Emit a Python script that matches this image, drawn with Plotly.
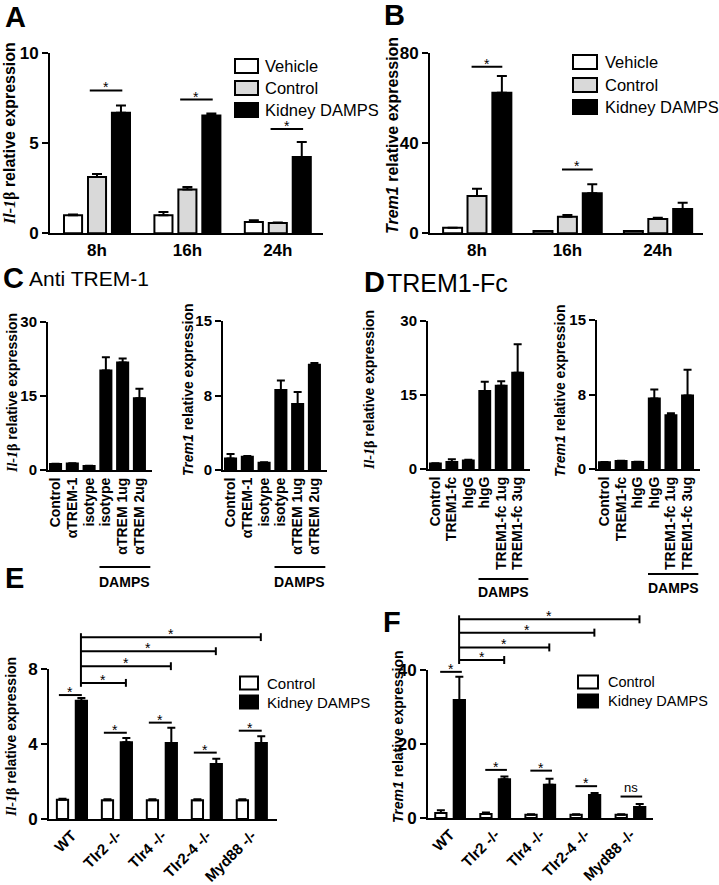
import plotly.graph_objects as go

W, H = 719, 885
def px(x): return x / W
def py(y): return 1 - y / H

SANS = "Liberation Sans"
SERIF = "Liberation Serif"
GRAY = "#d9d9d9"

# ---------------- data ----------------
time_labels = ["8h", "16h", "24h"]
A_vehicle = [1.0, 1.0, 0.63]
A_vehicle_err = [0.05, 0.18, 0.09]
A_control = [3.13, 2.44, 0.57]
A_control_err = [0.17, 0.13, 0.03]
A_damps = [6.7, 6.54, 4.24]
A_damps_err = [0.4, 0.11, 0.83]
A_sig_groups = [0, 1, 2]
A_sig_y = [7.94, 7.43, 5.8]

B_vehicle = [2.5, 1.0, 1.0]
B_vehicle_err = [0.0, 0.0, 0.0]
B_control = [16.6, 7.4, 6.4]
B_control_err = [3.2, 0.7, 0.5]
B_damps = [62.5, 17.8, 10.8]
B_damps_err = [7.4, 4.0, 2.8]
B_sig_groups = [0, 1]
B_sig_y = [74.0, 28.4]

C_labels = ["Control", "αTREM-1", "isotype", "isotype", "αTREM 1ug", "αTREM 2ug"]
C_il1b = [1.2, 1.3, 0.8, 20.1, 21.7, 14.5]
C_il1b_err = [0.05, 0.05, 0.05, 2.7, 0.8, 1.9]
C_trem1 = [1.17, 1.34, 0.74, 8.05, 6.64, 10.6]
C_trem1_err = [0.43, 0.06, 0.03, 0.95, 1.21, 0.17]

D_labels = ["Control", "TREM1-fc", "hIgG", "hIgG", "TREM1-fc 1ug", "TREM1-fc 3ug"]
D_il1b = [1.1, 1.4, 1.7, 15.8, 16.9, 19.5]
D_il1b_err = [0.05, 0.6, 0.2, 1.9, 0.9, 5.8]
D_trem1 = [0.68, 0.81, 0.71, 7.1, 5.4, 7.4]
D_trem1_err = [0.02, 0.02, 0.02, 0.9, 0.2, 2.6]

geno_labels = ["WT", "Tlr2 -/-", "Tlr4 -/-", "Tlr2-4 -/-", "Myd88 -/-"]
E_control = [1.03, 1.0, 1.0, 1.0, 1.0]
E_control_err = [0.05, 0.05, 0.05, 0.05, 0.05]
E_damps = [6.31, 4.1, 4.05, 2.93, 4.05]
E_damps_err = [0.14, 0.22, 0.82, 0.29, 0.36]
E_pair_sig_y = [6.61, 4.6, 5.14, 3.54, 4.71]
E_pair_sig_text = ["*", "*", "*", "*", "*"]
E_bracket_to = [1, 2, 3, 4]
E_bracket_y = [7.26, 8.15, 8.95, 9.7]

F_control = [1.35, 1.08, 0.9, 0.9, 0.9]
F_control_err = [0.72, 0.42, 0.1, 0.1, 0.1]
F_damps = [31.9, 10.5, 9.0, 6.2, 3.0]
F_damps_err = [6.3, 0.7, 1.6, 0.54, 0.8]
F_pair_sig_y = [39.5, 13.0, 12.8, 8.6, 5.8]
F_pair_sig_text = ["*", "*", "*", "*", "ns"]
F_bracket_to = [1, 2, 3, 4]
F_bracket_y = [42.7, 46.1, 50.1, 53.7]

# ---------------- helpers ----------------
fig = go.Figure()
ann = []
shapes = []

def bars(xs, vals, errs, xa, ya, color, offset, width, cap):
    fig.add_trace(go.Bar(
        x=xs, y=vals, xaxis=xa, yaxis=ya, offset=offset, width=width,
        marker=dict(color=color, line=dict(color="black", width=2)),
        error_y=dict(type="data", array=errs, arrayminus=[0] * len(errs), symmetric=False,
                     color="black", thickness=2, width=cap),
        hoverinfo="skip"))

def lines(segs, xa, ya):
    xs, ys = [], []
    for (x0, y0, x1, y1) in segs:
        xs += [x0, x1, None]
        ys += [y0, y1, None]
    fig.add_trace(go.Scatter(x=xs, y=ys, mode="lines", xaxis=xa, yaxis=ya,
                             line=dict(color="black", width=2), hoverinfo="skip"))

def stars(xs, ys, tx, xa, ya, size=14):
    for x, y, t in zip(xs, ys, tx):
        shift = -7 if t == "*" else 0
        sz = size if t == "*" else 13
        ann.append(dict(x=x, y=y, xref=xa, yref=ya, text=t, showarrow=False,
                        xanchor="center", yanchor="bottom", yshift=shift,
                        font=dict(family=SANS, size=sz, color="black")))

# ---------------- Panel A ----------------
idx3 = list(range(len(time_labels)))
bars(idx3, A_vehicle, A_vehicle_err, "x", "y", "white", -0.365, 0.2, 5)
bars(idx3, A_control, A_control_err, "x", "y", GRAY, -0.1, 0.2, 5)
bars(idx3, A_damps, A_damps_err, "x", "y", "black", 0.165, 0.2, 5)
lines([(g - 0.08, y, g + 0.28, y) for g, y in zip(A_sig_groups, A_sig_y)], "x", "y")
stars([g + 0.1 for g in A_sig_groups], A_sig_y, ["*"] * len(A_sig_y), "x", "y")

# ---------------- Panel B ----------------
bars(idx3, B_vehicle, B_vehicle_err, "x2", "y2", "white", -0.375, 0.21, 5)
bars(idx3, B_control, B_control_err, "x2", "y2", GRAY, -0.105, 0.21, 5)
bars(idx3, B_damps, B_damps_err, "x2", "y2", "black", 0.17, 0.21, 5)
lines([(g - 0.06, y, g + 0.28, y) for g, y in zip(B_sig_groups, B_sig_y)], "x2", "y2")
stars([g + 0.11 for g in B_sig_groups], B_sig_y, ["*"] * len(B_sig_y), "x2", "y2")

# ---------------- Panels C, D ----------------
idx6 = list(range(6))
bars(idx6, C_il1b, C_il1b_err, "x3", "y3", "black", -0.33, 0.66, 4)
bars(idx6, C_trem1, C_trem1_err, "x4", "y4", "black", -0.33, 0.66, 4)
bars(idx6, D_il1b, D_il1b_err, "x5", "y5", "black", -0.33, 0.66, 4)
bars(idx6, D_trem1, D_trem1_err, "x6", "y6", "black", -0.33, 0.66, 4)

# ---------------- Panel E ----------------
idx5 = list(range(len(geno_labels)))
bars(idx5, E_control, E_control_err, "x7", "y7", "white", -0.335, 0.25, 4)
bars(idx5, E_damps, E_damps_err, "x7", "y7", "black", 0.085, 0.25, 4)
segs = [(g - 0.29, y, g + 0.22, y) for g, y in zip(idx5, E_pair_sig_y)]
tk = 0.21
for k, y in zip(E_bracket_to, E_bracket_y):
    segs.append((0.2, y, k + 0.2, y))
    segs.append((k + 0.2, y - tk, k + 0.2, y + tk))
segs.append((0.2, min(E_bracket_y) - tk, 0.2, max(E_bracket_y) + tk))
lines(segs, "x7", "y9")
stars([g - 0.035 for g in idx5], E_pair_sig_y, E_pair_sig_text, "x7", "y9")
stars([(0.2 + k + 0.2) / 2 for k in E_bracket_to], E_bracket_y, ["*"] * 4, "x7", "y9")

# ---------------- Panel F ----------------
bars(idx5, F_control, F_control_err, "x8", "y8", "white", -0.33, 0.25, 4)
bars(idx5, F_damps, F_damps_err, "x8", "y8", "black", 0.08, 0.25, 4)
segs = [(g - 0.22, y, g + 0.26, y) for g, y in zip(idx5, F_pair_sig_y)]
tk = 1.08
for k, y in zip(F_bracket_to, F_bracket_y):
    segs.append((0.2, y, k + 0.2, y))
    segs.append((k + 0.2, y - tk, k + 0.2, y + tk))
segs.append((0.2, min(F_bracket_y) - tk, 0.2, max(F_bracket_y) + tk))
lines(segs, "x8", "y10")
stars([g + 0.02 for g in idx5], F_pair_sig_y, F_pair_sig_text, "x8", "y10")
stars([(0.2 + k + 0.2) / 2 for k in F_bracket_to], F_bracket_y, ["*"] * 4, "x8", "y10")

# ---------------- axes ----------------
def xax(dom, rng, vals, labels, anchor, size=16, angle=0):
    return dict(domain=[px(dom[0]), px(dom[1])], range=rng, anchor=anchor,
                tickvals=vals, ticktext=labels, tickangle=angle, ticks="",
                showline=True, linewidth=2, linecolor="black", showgrid=False, zeroline=False,
                automargin=False, fixedrange=True,
                tickfont=dict(family=SANS, size=size, color="black", weight="bold"))

def yax(dom, rng, vals, labels, anchor, size=16):
    return dict(domain=[py(dom[0]), py(dom[1])], range=rng, anchor=anchor,
                tickvals=vals, ticktext=labels, ticks="outside", ticklen=6, tickwidth=2,
                tickcolor="black", showline=True, linewidth=2, linecolor="black",
                showgrid=False, zeroline=False, automargin=False, fixedrange=True,
                tickfont=dict(family=SANS, size=size, color="black", weight="bold"))

layout = dict(
    width=W, height=H, autosize=False, margin=dict(l=0, r=0, t=0, b=0),
    template="none", plot_bgcolor="rgba(0,0,0,0)", paper_bgcolor="white",
    barmode="overlay", showlegend=False,
    xaxis=xax((50, 323), [-0.52, 2.5], idx3, time_labels, "y", 17),
    yaxis=yax((233.3, 53.3), [0, 10], [0, 5, 10], ["0", "5", "10"], "x", 17),
    xaxis2=xax((430, 703), [-0.52, 2.5], idx3, time_labels, "y2", 17),
    yaxis2=yax((233.3, 53.3), [0, 80], [0, 40, 80], ["0", "40", "80"], "x2", 17),
    xaxis3=xax((48, 152), [-0.45, 5.75], idx6, C_labels, "y3", 14, -90),
    yaxis3=yax((470, 321.5), [0, 30], [0, 15, 30], ["0", "15", "30"], "x3", 15),
    xaxis4=xax((223, 327), [-0.45, 5.75], idx6, C_labels, "y4", 14, -90),
    yaxis4=yax((470, 321), [0, 15], [0, 7.5, 15], ["0", "8", "15"], "x4", 15),
    xaxis5=xax((428, 530), [-0.45, 5.75], idx6, D_labels, "y5", 14, -90),
    yaxis5=yax((469, 321), [0, 30], [0, 15, 30], ["0", "15", "30"], "x5", 15),
    xaxis6=xax((597, 700), [-0.45, 5.75], idx6, D_labels, "y6", 14, -90),
    yaxis6=yax((469, 320), [0, 15], [0, 7.5, 15], ["0", "8", "15"], "x6", 15),
    xaxis7=xax((49, 277), [-0.51, 4.56], idx5, geno_labels, "y7", 15, -45),
    yaxis7=yax((819, 669), [0, 8], [0, 4, 8], ["0", "4", "8"], "x7", 17),
    xaxis8=xax((428, 653), [-0.49, 4.5], idx5, geno_labels, "y8", 15, -45),
    yaxis8=yax((818, 670), [0, 40], [0, 20, 40], ["0", "20", "40"], "x8", 17),
    yaxis9=dict(domain=[py(819), py(628)], range=[0, 191 / 18.75], anchor="x7", visible=False, fixedrange=True),
    yaxis10=dict(domain=[py(818), py(610)], range=[0, 208 / 3.7], anchor="x8", visible=False, fixedrange=True),
)
fig.update_layout(**layout)

# ---------------- annotations / shapes ----------------
def note(x, y, text, size, bold=False, angle=0, xanchor="center", family=SANS):
    ann.append(dict(x=px(x), y=py(y), xref="paper", yref="paper", text=text, showarrow=False,
                    xanchor=xanchor, yanchor="middle", textangle=angle,
                    font=dict(family=family, size=size, color="black",
                              weight="bold" if bold else "normal")))

IL1B = "<span style='font-family:Liberation Serif'><b><i>Il-1</i>β</b></span> <b>relative expression</b>"
TREM = "<b><i>Trem1</i> relative expression</b>"

# panel letters
for lx, ly, lt in [(15, 17, "A"), (394, 15, "B"), (13, 278, "C"), (374, 282, "D"), (14, 578, "E"), (392, 622, "F")]:
    note(lx, ly, lt, 29, bold=True)
note(27, 278, "Anti TREM-1", 21, xanchor="left")
note(385, 283, "TREM1-Fc", 25, xanchor="left")

# axis titles
note(10, 134, IL1B, 16, angle=-90)
note(393, 136, TREM, 16, angle=-90)
note(12, 393, IL1B, 14, angle=-90)
note(188, 390, TREM, 14, angle=-90)
note(369, 390, IL1B, 14, angle=-90)
note(560, 391, TREM, 14, angle=-90)
note(11, 737, IL1B, 14, angle=-90)
note(398, 737, TREM, 14, angle=-90)

# DAMPS underline
for xa, ly, ty in [("x3", 567, 582), ("x4", 567, 582), ("x5", 579, 592), ("x6", 574, 588)]:
    shapes.append(dict(type="line", xref=xa, yref="paper", x0=2.62, x1=5.65, y0=py(ly), y1=py(ly),
                       line=dict(color="black", width=2)))
    ann.append(dict(x=(2.62 + 5.65) / 2, y=py(ty), xref=xa, yref="paper", text="<b>DAMPS</b>",
                    showarrow=False, xanchor="center", yanchor="middle",
                    font=dict(family=SANS, size=14, color="black")))

# legends
def legend(bx0, bx1, rows, names, fills, tx, size, bh):
    for ry, nm, fc in zip(rows, names, fills):
        shapes.append(dict(type="rect", xref="paper", yref="paper", x0=px(bx0), x1=px(bx1),
                           y0=py(ry + bh / 2), y1=py(ry - bh / 2), fillcolor=fc,
                           line=dict(color="black", width=2)))
        note(tx, ry, nm, size, xanchor="left")

legend(235, 258, [66, 88, 110], ["Vehicle", "Control", "Kidney DAMPS"], ["white", GRAY, "black"], 263, 16.5, 14)
legend(573, 597, [62, 85, 107], ["Vehicle", "Control", "Kidney DAMPS"], ["white", GRAY, "black"], 603, 16.5, 14)
legend(240, 258, [683, 702], ["Control", "Kidney DAMPS"], ["white", "black"], 265, 15, 13)
legend(578, 598, [682, 701], ["Control", "Kidney DAMPS"], ["white", "black"], 606, 14.5, 13)

fig.update_layout(annotations=ann, shapes=shapes)
fig.write_html("out.html", config={"displayModeBar": False},
               post_script="document.body.style.margin='0';document.body.style.padding='0';")
